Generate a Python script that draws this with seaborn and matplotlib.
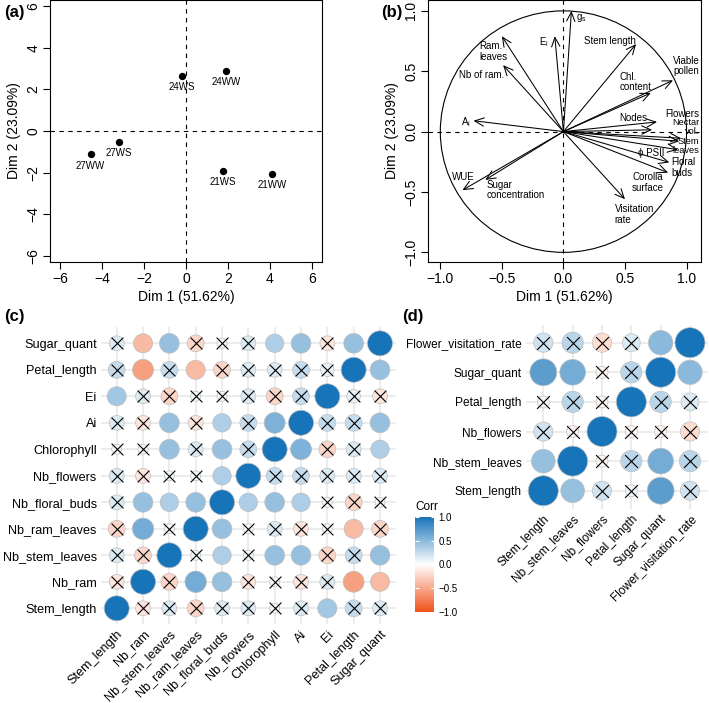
import numpy as np
import pandas as pd
import matplotlib
matplotlib.use("Agg")
import matplotlib.pyplot as plt
import seaborn as sns
from matplotlib.colors import LinearSegmentedColormap, Normalize
from matplotlib.cm import ScalarMappable
from matplotlib.patches import Circle

# ---------------- data ----------------
ind_labels = ["24WS", "24WW", "27WS", "27WW", "21WS", "21WW"]
ind_dim1 = [-0.2, 1.9, -3.2, -4.55, 1.76, 4.1]
ind_dim2 = [2.64, 2.9, -0.53, -1.12, -1.9, -2.05]

var_labels = [r"$\mathrm{g_s}$", r"$\mathrm{E_i}$", "Stem length", "Ram.\nleaves", "Nb of ram.",
              r"$\mathrm{A_i}$", "WUE", "Sugar\nconcentration", "Visitation\nrate",
              "Corolla\nsurface", "Floral\nbuds", "ϕ PSII", "Stem\nleaves", "Nectar\nvol.",
              "Flowers", "Nodes", "Chl.\ncontent", "Viable\npollen"]
var_dim1 = [0.065, -0.07, 0.59, -0.50, -0.49, -0.73, -0.82, -0.635, 0.50,
            0.85, 0.86, 0.93, 0.94, 0.955, 0.72, 0.76, 0.71, 0.89]
var_dim2 = [1.0, 0.79, 0.725, 0.79, 0.55, 0.09, -0.485, -0.40, -0.56,
            -0.34, -0.255, -0.15, -0.08, -0.055, 0.015, 0.08, 0.32, 0.425]

vars_c = ["Stem_length", "Nb_ram", "Nb_stem_leaves", "Nb_ram_leaves", "Nb_floral_buds",
          "Nb_flowers", "Chlorophyll", "Ai", "Ei", "Petal_length", "Sugar_quant"]
corr_c = [
    [1.00, -0.15, 0.15, -0.25, 0.15, 0.15, 0.05, 0.15, 0.40, 0.25, 0.15],
    [-0.15, 1.00, -0.25, 0.60, 0.45, -0.15, 0.05, -0.15, 0.15, -0.55, -0.40],
    [0.15, -0.25, 1.00, 0.05, 0.35, 0.05, 0.45, 0.45, -0.25, 0.25, 0.45],
    [-0.25, 0.60, 0.05, 1.00, 0.45, 0.05, 0.15, -0.15, 0.05, -0.40, -0.25],
    [0.15, 0.45, 0.35, 0.45, 1.00, 0.35, 0.45, 0.35, 0.05, -0.25, 0.05],
    [0.15, -0.15, 0.05, 0.05, 0.35, 1.00, 0.25, 0.25, 0.15, 0.15, 0.15],
    [0.05, 0.05, 0.45, 0.15, 0.45, 0.25, 1.00, 0.55, -0.25, 0.15, 0.35],
    [0.15, -0.15, 0.45, -0.15, 0.35, 0.25, 0.55, 1.00, 0.25, 0.25, 0.45],
    [0.40, 0.15, -0.25, 0.05, 0.05, 0.15, -0.25, 0.25, 1.00, 0.10, -0.15],
    [0.25, -0.55, 0.25, -0.40, -0.25, 0.15, 0.15, 0.25, 0.10, 1.00, 0.45],
    [0.15, -0.40, 0.45, -0.25, 0.05, 0.15, 0.35, 0.45, -0.15, 0.45, 1.00],
]
sig_c = [
    [1, 0, 0, 0, 0, 0, 0, 0, 1, 0, 0],
    [0, 1, 0, 1, 1, 0, 0, 0, 0, 1, 1],
    [0, 0, 1, 0, 1, 0, 1, 1, 0, 0, 1],
    [0, 1, 0, 1, 1, 0, 0, 0, 0, 1, 0],
    [0, 1, 1, 1, 1, 1, 1, 1, 0, 0, 0],
    [0, 0, 0, 0, 1, 1, 0, 0, 0, 0, 0],
    [0, 0, 1, 0, 1, 0, 1, 1, 0, 0, 1],
    [0, 0, 1, 0, 1, 0, 1, 1, 0, 0, 1],
    [1, 0, 0, 0, 0, 0, 0, 0, 1, 0, 0],
    [0, 1, 0, 1, 0, 0, 0, 0, 0, 1, 1],
    [0, 1, 1, 0, 0, 0, 1, 1, 0, 1, 1],
]

vars_d = ["Stem_length", "Nb_stem_leaves", "Nb_flowers", "Petal_length", "Sugar_quant",
          "Flower_visitation_rate"]
corr_d = [
    [1.00, 0.45, 0.20, 0.05, 0.70, 0.20],
    [0.45, 1.00, -0.05, 0.30, 0.60, 0.30],
    [0.20, -0.05, 1.00, -0.05, -0.05, -0.20],
    [0.05, 0.30, -0.05, 1.00, 0.30, 0.15],
    [0.70, 0.60, -0.05, 0.30, 1.00, 0.50],
    [0.20, 0.30, -0.20, 0.15, 0.50, 1.00],
]
sig_d = [
    [1, 1, 0, 0, 1, 0],
    [1, 1, 0, 0, 1, 0],
    [0, 0, 1, 0, 0, 0],
    [0, 0, 0, 1, 0, 0],
    [1, 1, 0, 0, 1, 1],
    [0, 0, 0, 0, 1, 1],
]

dim1_title = "Dim 1 (51.62%)"
dim2_title = "Dim 2 (23.09%)"
legend_ticks = [-1.0, -0.5, 0.0, 0.5, 1.0]

# ---------------- style ----------------
sns.set_theme(style="white")
plt.rcParams["font.family"] = ["Liberation Sans", "DejaVu Sans"]
plt.rcParams.update({
    "axes.edgecolor": "black", "text.color": "black", "axes.labelcolor": "black",
    "xtick.color": "black", "ytick.color": "black",
    "mathtext.fontset": "custom", "mathtext.rm": "Liberation Sans",
    "mathtext.it": "Liberation Sans:italic", "mathtext.default": "regular",
})

W, H = 709, 703
fig = plt.figure(figsize=(W / 100, H / 100), dpi=100)


def box(x0, y0, x1, y1):
    return [x0 / W, 1 - y1 / H, (x1 - x0) / W, (y1 - y0) / H]


def r_axes(ax, ticks):
    ax.set_xticks(ticks)
    ax.set_yticks(ticks)
    ax.tick_params(direction="out", length=5, width=0.8, labelsize=10, pad=2,
                   bottom=True, left=True)
    for lab in ax.get_yticklabels():
        lab.set_rotation(90)
        lab.set_va("center")
    for s in ax.spines.values():
        s.set_visible(True)
        s.set_linewidth(0.8)
        s.set_color("black")
    ax.set_xlabel(dim1_title, fontsize=10, labelpad=3)
    ax.set_ylabel(dim2_title, fontsize=10, labelpad=4)
    ax.axhline(0, color="black", lw=0.8, ls=(0, (4, 4)), zorder=1)
    ax.axvline(0, color="black", lw=0.8, ls=(0, (4, 4)), zorder=1)


# ---------------- panel (a) ----------------
axA = fig.add_axes(box(50, 0, 322, 262))
ind_df = pd.DataFrame({"d1": ind_dim1, "d2": ind_dim2, "lab": ind_labels})
sns.scatterplot(data=ind_df, x="d1", y="d2", color="black", s=28, linewidth=0,
                legend=False, ax=axA, zorder=3)
for x, y, l in zip(ind_dim1, ind_dim2, ind_labels):
    axA.annotate(l, (x, y), xytext=(0, -4.5), textcoords="offset points",
                 ha="center", va="top", fontsize=7)
axA.set_xlim(-6.48, 6.48)
axA.set_ylim(-6.29, 6.29)
r_axes(axA, [-6, -4, -2, 0, 2, 4, 6])

# ---------------- panel (b) ----------------
axB = fig.add_axes(box(428, 0, 700.7, 262))
axB.add_patch(Circle((0, 0), 1, fill=False, color="black", lw=0.8))
for x, y in zip(var_dim1, var_dim2):
    axB.annotate("", xy=(x, y), xytext=(0, 0),
                 arrowprops=dict(arrowstyle="->,head_length=0.55,head_width=0.25",
                                 lw=0.75, color="black", shrinkA=0, shrinkB=0))
label_pos = {
    0: (0.10, 0.945, "left"), 1: (-0.12, 0.745, "right"), 2: (0.165, 0.75, "left"),
    3: (-0.68, 0.665, "left"), 4: (-0.85, 0.467, "left"), 5: (-0.83, 0.075, "left"),
    6: (-0.905, -0.373, "left"), 7: (-0.626, -0.485, "left"), 8: (0.417, -0.685, "left"),
    9: (0.558, -0.42, "left"), 10: (0.878, -0.298, "left"), 11: (0.607, -0.174, "left"),
    12: (1.104, -0.118, "right"), 13: (1.104, 0.035, "right"), 14: (1.104, 0.148, "right"),
    15: (0.453, 0.116, "left"), 16: (0.458, 0.41, "left"), 17: (1.104, 0.545, "right"),
}
for i, lab in enumerate(var_labels):
    lx, ly, ha = label_pos[i]
    fs = 6.7 if i in (12, 13) else 7
    axB.text(lx, ly, lab, ha=ha, va="center", multialignment=ha, fontsize=fs,
             linespacing=1.0 if i in (12, 13) else 1.05)
axB.set_xlim(-1.10, 1.115)
axB.set_ylim(-1.08, 1.09)
r_axes(axB, [-1.0, -0.5, 0.0, 0.5, 1.0])
axB.set_xticklabels(["−1.0", "−0.5", "0.0", "0.5", "1.0"])
axB.set_yticklabels(["−1.0", "−0.5", "0.0", "0.5", "1.0"], rotation=90, va="center")

# ---------------- correlation panels ----------------
cmap = LinearSegmentedColormap.from_list("corr", ["#F0531C", "#FFFFFF", "#1874B9"])


def corr_panel(ax, names, mat, sig, dmin, dmax, xsize, fs):
    n = len(names)
    recs = []
    for i in range(n):
        for j in range(n):
            recs.append((j, i, mat[i][j], sig[i][j]))
    df = pd.DataFrame(recs, columns=["col", "row", "corr", "sig"])
    a = df["corr"].abs()
    frac = (a - a.min()) / (a.max() - a.min())
    df["area"] = ((dmin + (dmax - dmin) * np.sqrt(frac)) * 0.72) ** 2
    lo, hi = df["area"].min(), df["area"].max()
    sns.scatterplot(data=df, x="col", y="row", hue="corr", palette=cmap, hue_norm=(-1, 1),
                    size="area", sizes=(lo, hi), size_norm=(lo, hi),
                    edgecolor="#BDBDBD", linewidth=0.5, legend=False, ax=ax, zorder=3)
    ns = df[df["sig"] == 0]
    sns.scatterplot(data=ns, x="col", y="row", marker="x", color="black", s=xsize,
                    linewidth=0.8, legend=False, ax=ax, zorder=4)
    ax.set_xlim(-0.6, n - 0.4)
    ax.set_ylim(-0.6, n - 0.4)
    ax.set_xticks(range(n))
    ax.set_xticklabels(names, rotation=45, ha="right", rotation_mode="anchor", fontsize=fs)
    ax.set_yticks(range(n))
    ax.set_yticklabels(names, fontsize=fs)
    ax.grid(True, color="#EBEBEB", lw=1.3)
    ax.set_axisbelow(True)
    ax.tick_params(length=0, pad=3)
    for s in ax.spines.values():
        s.set_visible(False)
    ax.set_xlabel("")
    ax.set_ylabel("")


axC = fig.add_axes(box(100.9, 327.4, 395.8, 624.2))
corr_panel(axC, vars_c, corr_c, sig_c, 10, 25, 72, 9.1)

axD = fig.add_axes(box(525.7, 324.9, 707.6, 508.5))
corr_panel(axD, vars_d, corr_d, sig_d, 12, 30, 85, 8.6)

# legend
cax = fig.add_axes(box(415, 517, 434.5, 611.5))
cb = fig.colorbar(ScalarMappable(norm=Normalize(-1, 1), cmap=cmap), cax=cax, ticks=legend_ticks)
cb.outline.set_visible(False)
cb.ax.set_yticklabels(["−1.0", "−0.5", "0.0", "0.5", "1.0"])
cax.tick_params(length=0, labelsize=7, pad=3)
cax.hlines(legend_ticks, 0, 0.2, color="white", lw=0.8)
cax.hlines(legend_ticks, 0.8, 1, color="white", lw=0.8)
fig.text(415 / W, 1 - 507 / H, "Corr", ha="left", va="center", fontsize=8.5)

# panel letters
for lx, ly, t in [(4, 12, "(a)"), (381, 12, "(b)"), (4, 316, "(c)"), (402, 316, "(d)")]:
    fig.text(lx / W, 1 - ly / H, t, ha="left", va="center", fontsize=12, fontweight="bold")

fig.savefig("out.png", dpi=100)
